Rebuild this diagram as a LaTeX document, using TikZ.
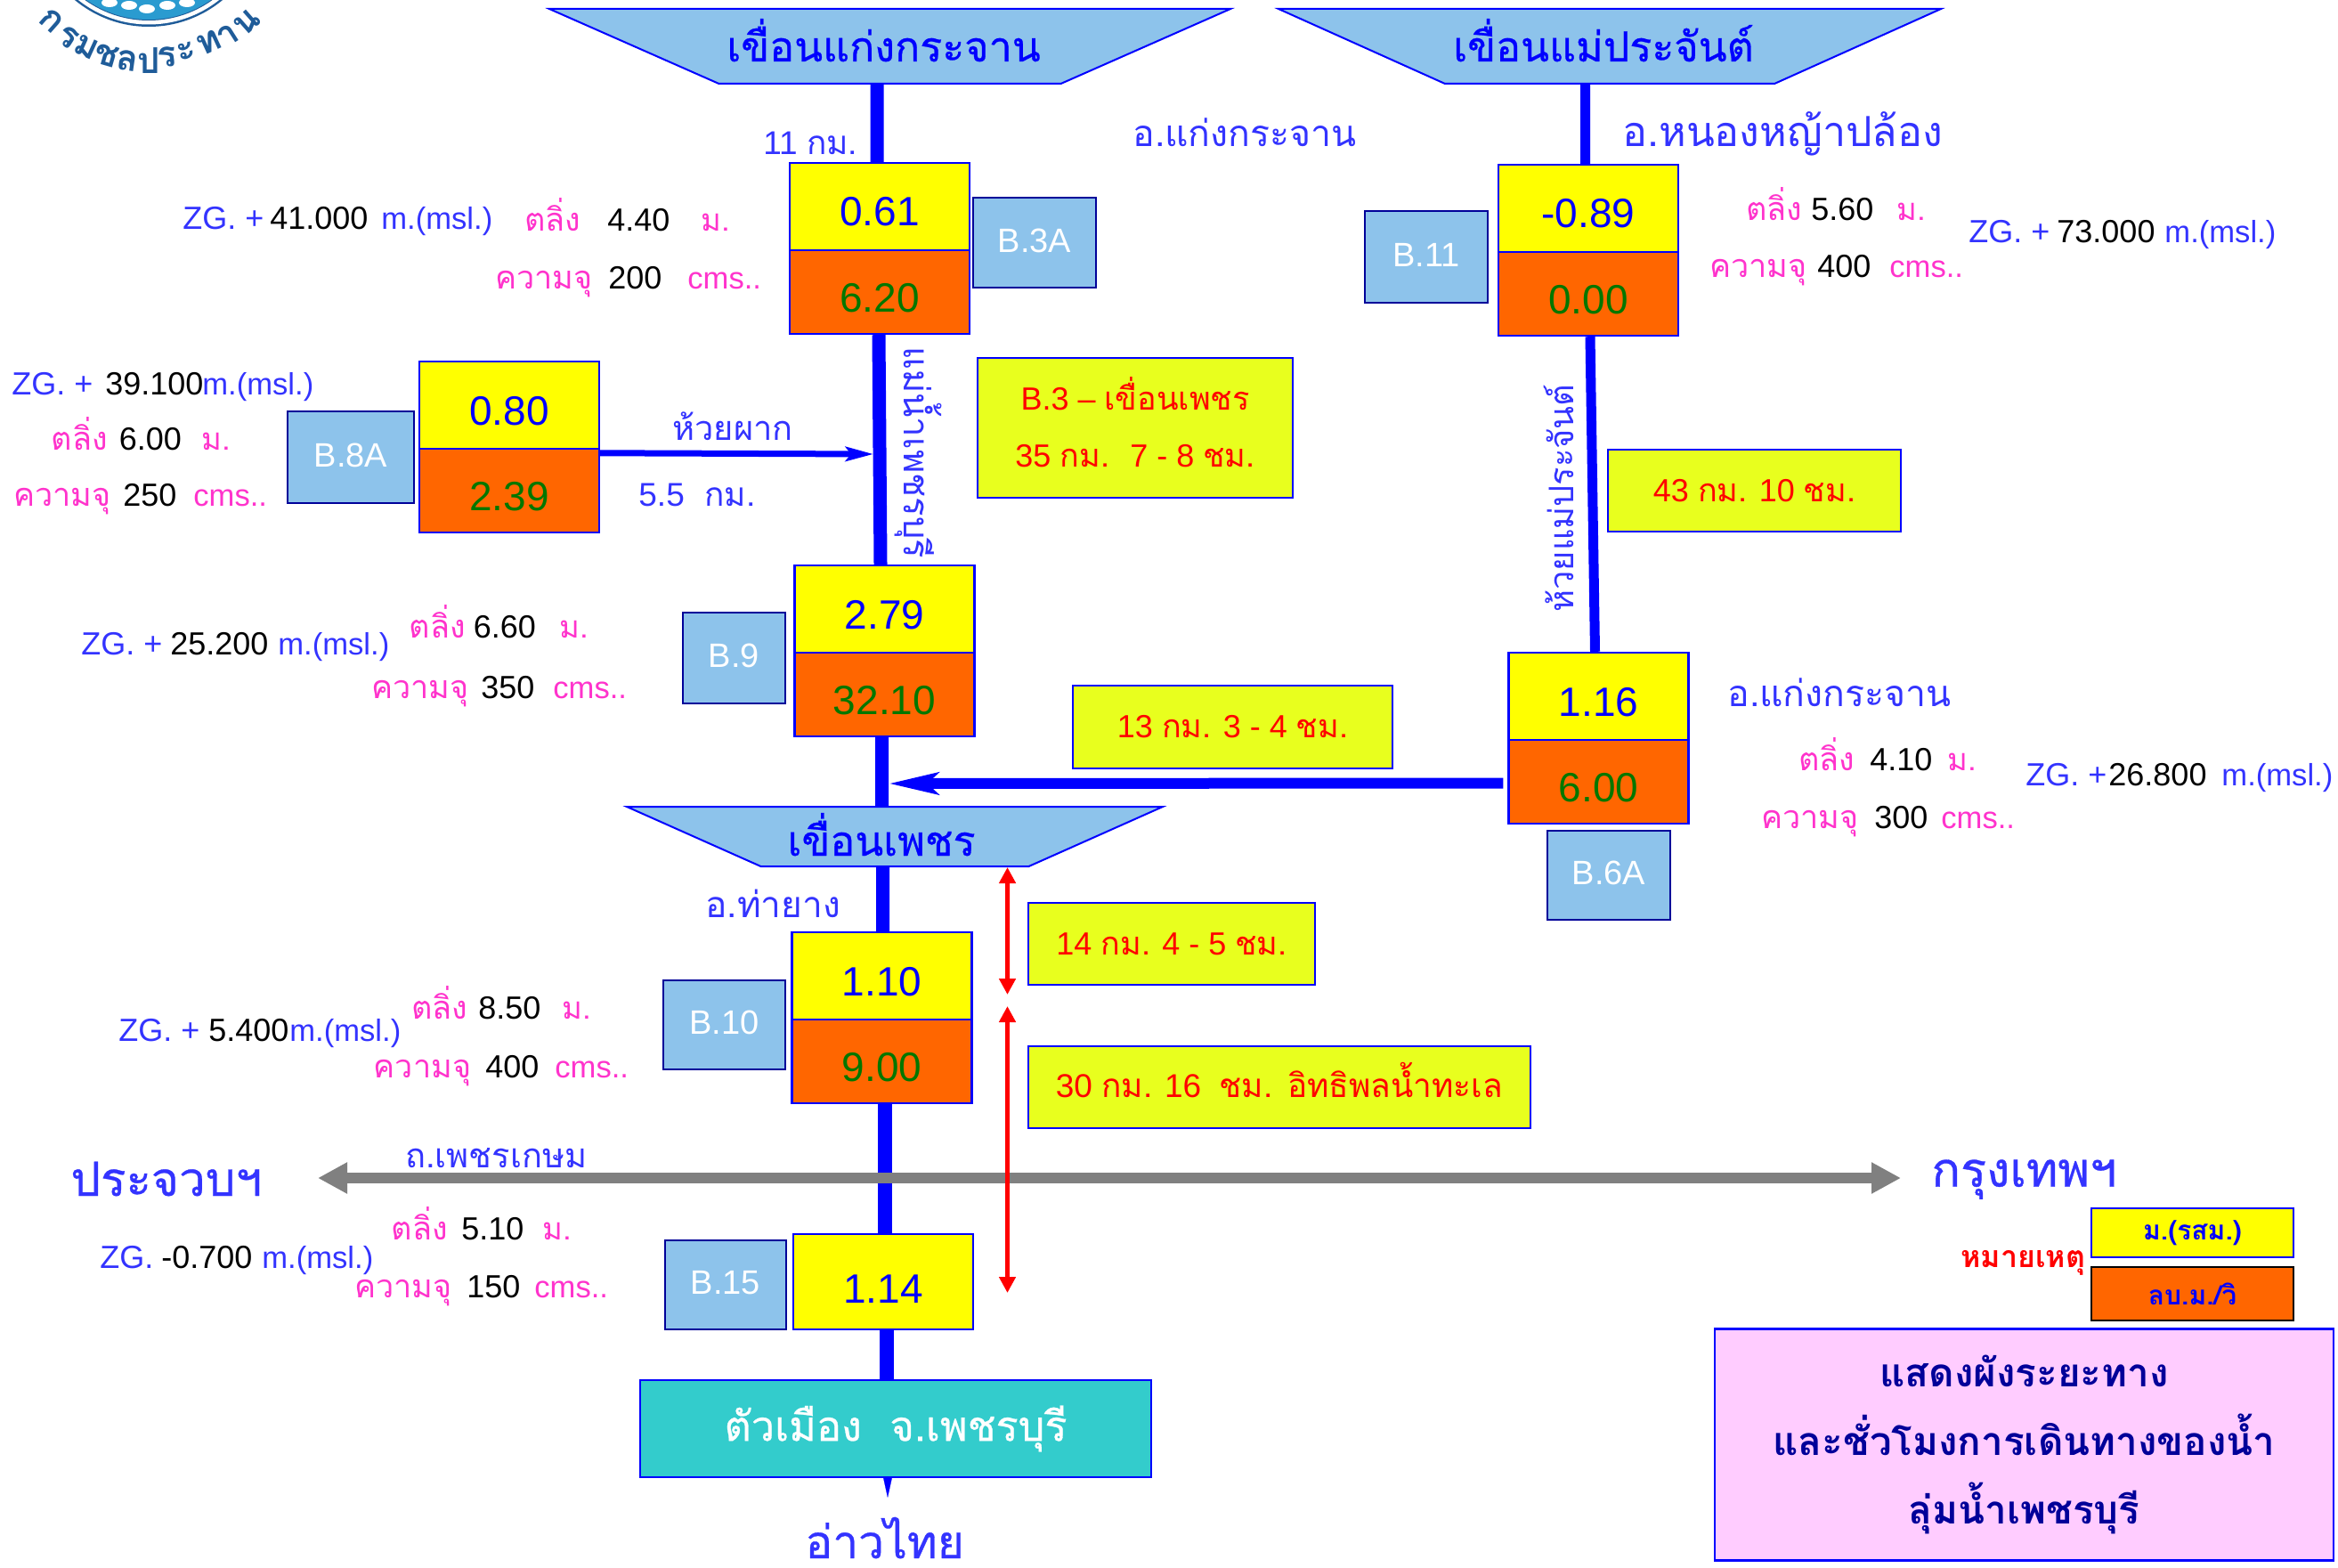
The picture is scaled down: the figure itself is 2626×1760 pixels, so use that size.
\documentclass[tikz,border=0pt]{standalone}
\usepackage{fontspec}
\setmainfont{Liberation Sans}
\newfontfamily\thaifont[Script=Thai]{Loma}
\newfontfamily\thaimed[Script=Thai,FakeBold=0.6]{Loma}
\usetikzlibrary{shapes.geometric}
\usetikzlibrary{arrows.meta}
\definecolor{lblblue}{HTML}{3333FF}
\definecolor{lblpink}{HTML}{FF33CC}
\definecolor{lvlyellow}{HTML}{FFFF00}
\definecolor{floorange}{HTML}{FF6600}
\definecolor{flogreen}{HTML}{007700}
\definecolor{stnblue}{HTML}{8DC3EB}
\definecolor{dstlime}{HTML}{E8FF1E}
\definecolor{cityteal}{HTML}{33CCCC}
\definecolor{notepink}{HTML}{FFCCFF}
\definecolor{logoblue}{HTML}{1F5C99}
\definecolor{logofill}{HTML}{2A9BD0}
\newcommand{\thai}[1]{{\thaifont #1}}
\newcommand{\infoline}[5]{\makebox[#2pt][l]{\textcolor{lblpink}{\thai{#1}}}\makebox[#4pt][l]{\textcolor{black}{#3}}\textcolor{lblpink}{\fontsize{17.3}{17.3}\selectfont #5}}
\newcommand{\zgline}[5]{\makebox[#2pt][l]{\textcolor{lblblue}{#1}}\makebox[#4pt][l]{\textcolor{black}{#3}}\textcolor{lblblue}{\fontsize{17.3}{17.3}\selectfont #5}}
\tikzstyle{lvl}=[draw=blue,fill=lvlyellow,line width=1.2pt,minimum width=101pt,minimum height=49pt,inner sep=0pt,text=blue,font=\fontsize{23}{23}\selectfont,text height=22pt,text depth=0pt]
\tikzstyle{flo}=[lvl,fill=floorange,text=flogreen,minimum height=47pt]
\tikzstyle{stn}=[draw=blue!60!black,fill=stnblue,line width=1pt,inner sep=0pt,text=white,minimum width=69pt,minimum height=50pt,font=\fontsize{19}{19}\selectfont,text depth=2.4pt]
\tikzstyle{dst}=[draw=blue,fill=dstlime,line width=1pt,inner sep=0pt,text=red,font=\fontsize{18}{18}\selectfont]
\tikzstyle{dam}=[trapezium,shape border rotate=180,trapezium stretches body=true,draw=blue,fill=stnblue,line width=1pt,inner xsep=0pt,text=blue,font=\fontsize{23.3}{23.3}\selectfont\thaimed,text depth=0pt]
\tikzstyle{lbl}=[anchor=base west,inner sep=0pt,font=\fontsize{18}{18}\selectfont]
\tikzstyle{plc}=[anchor=base west,inner sep=0pt,text=lblblue,font=\fontsize{19}{19}\selectfont\thaifont]
\tikzstyle{big}=[plc,font=\fontsize{26.5}{26.5}\selectfont\thaimed]
\tikzstyle{riv}=[draw=blue,line width=7.5pt]
\tikzstyle{trib}=[draw=blue,line width=5.5pt]
\begin{document}
\begin{tikzpicture}[x=0.5pt,y=-0.5pt,node distance=48pt]
  \path [use as bounding box,clip] (0,0) rectangle (2626,1760);

  \fill [logoblue] (167,-100) circle (130pt/2);
  \fill [white] (167,-100) circle (127.5pt/2);
  \fill [logoblue] (167,-100) circle (123pt/2);
  \fill [logofill] (167,-100) circle (122pt/2);
  \foreach \xa/\ya in {123/3,145/6,165/10,188/6,210/3}
    \fill [white] (\xa,\ya) ellipse (9pt/2 and 5pt/2);
  \foreach \ch/\xa/\ya [count=\i] in {ก/58/23,ร/77/42,ม/97/53,ช/120/62,ล/143/68,ป/167/68,ร/188/64,ะ/209/58,ท/235/48,า/256/40,น/277/25} {
    \pgfmathsetmacro{\a}{atan((\xa-167)/(\ya+100))}
    \node (lg\i) [text=logoblue,inner sep=0pt,rotate=\a,font=\fontsize{20}{20}\selectfont\thaifont\bfseries] at (\xa,\ya) {\ch};
  }

  \node [dam,inner ysep=12.5pt,minimum width=382.5pt,trapezium left angle=23.8,trapezium right angle=23.8,text height=17pt] (dam1) at (999.5,52) {เขื่อนแก่งกระจาน\hspace*{7pt}};
  \node [dam,inner ysep=12.5pt,minimum width=372pt,trapezium left angle=24.2,trapezium right angle=24.2,text height=17pt] (dam2) at (1808,52) {เขื่อนแม่ประจันต์\hspace*{7pt}};
  \node [dam,inner ysep=6pt,minimum width=301pt,trapezium left angle=24,trapezium right angle=24,text height=21.5pt] (dam3) at (1005,939.5) {เขื่อนเพชร\hspace*{15pt}};

  \node [lvl] (g1) at (988,232) {0.61};
  \node [flo] (q1) [below of=g1] {6.20};
  \node [lvl] (g2) at (993.5,684) {2.79};
  \node [flo] (q2) [below of=g2] {32.10};
  \node [lvl] (g3) at (572,455) {0.80};
  \node [flo] (q3) [below of=g3] {2.39};
  \node [lvl] (g4) at (990.5,1096) {1.10};
  \node [flo] (q4) [below of=g4] {9.00};
  \node [lvl,minimum height=53.5pt,text height=24pt] (g5) at (992,1439.5) {1.14};
  \node [lvl] (g6) at (1784,234) {-0.89};
  \node [flo] (q6) [below of=g6] {0.00};
  \node [lvl] (g7) at (1795.5,782) {1.16};
  \node [flo] (q7) [below of=g7] {6.00};

  \node [stn] (b3a) at (1162,272.5) {B.3A};
  \node [stn,minimum height=51.5pt] (b11) at (1602,288.5) {B.11};
  \node [stn,minimum width=71pt,minimum height=51.5pt] (b8a) at (394,513.5) {B.8A};
  \node [stn,minimum width=57.5pt,minimum height=51pt] (b9) at (824.5,739) {B.9};
  \node [stn,minimum width=68.5pt] (b10) at (813.5,1150.5) {B.10};
  \node [stn,minimum width=68pt] (b15) at (815,1443) {B.15};
  \node [stn] (b6a) at (1807,982.5) {B.6A};

  \node [dst,minimum width=177pt,minimum height=78.5pt,align=center] (d1) at (1275,480.5) {B.3 -- \thai{เขื่อนเพชร}\\[14pt]35 \thai{กม.}~ 7 - 8 \thai{ชม.}\rule[-7pt]{0pt}{0pt}};
  \node [dst,minimum width=164.5pt,minimum height=46pt] (d2) at (1970.5,551) {43 \thai{กม.} 10 \thai{ชม.}};
  \node [dst,minimum width=179.5pt,minimum height=46.5pt] (d3) at (1384.5,816.5) {13 \thai{กม.} 3 - 4 \thai{ชม.}};
  \node [dst,minimum width=161pt,minimum height=46pt] (d4) at (1316,1060) {14 \thai{กม.} 4 - 5 \thai{ชม.}};
  \node [dst,minimum width=282pt,minimum height=46pt,text height=11pt,text depth=0pt,font=\fontsize{18.5}{18.5}\selectfont] (d5) at (1437,1221) {30 \thai{กม.} 16~ \thai{ชม. อิทธิพลน้ำทะเล}};

  \node [draw=blue,fill=cityteal,line width=1.2pt,text=white,minimum width=287pt,minimum height=54.5pt,inner sep=0pt,font=\fontsize{23.4}{23.4}\selectfont\thaimed] (city) at (1006,1604.5) {ตัวเมือง~ จ.เพชรบุรี};
  \node [big,font=\fontsize{25.7}{25.7}\selectfont\thaimed] (gulf) at (904,1750) {อ่าวไทย};
  \node [big] (pj) at (79,1343) {ประจวบฯ};
  \node [big,font=\fontsize{27}{27}\selectfont\thaimed] (bk) at (2169,1332.7) {กรุงเทพฯ};
  \node [plc] (rd) at (455,1311) {ถ.เพชรเกษม};
  \node [plc,font=\fontsize{20.5}{20.5}\selectfont\thaifont] (am1) at (1272,165) {อ.แก่งกระจาน};
  \node [plc,font=\fontsize{23.3}{23.3}\selectfont\thaifont] (am2) at (1822,165) {อ.หนองหญ้าปล้อง};
  \node [plc,font=\fontsize{20.3}{20.3}\selectfont\thaifont] (am3) at (792,1030) {อ.ท่ายาง};
  \node [plc,font=\fontsize{20.5}{20.5}\selectfont\thaifont] (am4) at (1940,793.5) {อ.แก่งกระจาน};
  \node [plc] (km1) at (755,494) {ห้วยผาก};
  \node [lbl,text=lblblue,font=\fontsize{18.5}{18.5}\selectfont] (km2) at (857,173.5) {11 \thai{กม.}};
  \node [lbl,text=lblblue,font=\fontsize{18.5}{18.5}\selectfont] (km3) at (717,568) {5.5~~\hspace{1pt}\thai{กม.}};
  \node [plc,rotate=-90,font=\fontsize{20}{20}\selectfont\thaifont] (rv1) at (1015,389) {แม่น้ำเพชรบุรี};
  \node [plc,rotate=90] (rv2) at (1767,688) {ห้วยแม่ประจันต์};

  \node [lbl] (z1) at (205,257) {\zgline{ZG. +}{49}{41.000}{62.5}{m.(msl.)}};
  \node [lbl] (t1) at (589,259) {\infoline{ตลิ่ง}{46.5}{4.40}{52.5}{\thai{ม.}}};
  \node [lbl] (c1) at (556,324) {\infoline{ความจุ}{63.5}{200}{44.5}{cms..}};
  \node [lbl] (z3) at (13,443) {\zgline{ZG. +}{52.5}{39.100}{54.5}{m.(msl.)}};
  \node [lbl] (t3) at (57.5,505) {\infoline{ตลิ่ง}{38}{6.00}{46.5}{\thai{ม.}}};
  \node [lbl] (c3) at (15,568) {\infoline{ความจุ}{61.5}{250}{39.5}{cms..}};
  \node [lbl] (z2) at (91,735.5) {\zgline{ZG. +}{50}{25.200}{60.5}{m.(msl.)}};
  \node [lbl] (t2) at (459.5,716) {\infoline{ตลิ่ง}{36}{6.60}{48.5}{\thai{ม.}}};
  \node [lbl] (c2) at (417,784) {\infoline{ความจุ}{61.5}{350}{40.5}{cms..}};
  \node [lbl] (z4) at (133,1169) {\zgline{ZG. +}{50.5}{5.400}{45.5}{m.(msl.)}};
  \node [lbl] (t4) at (462,1144.5) {\infoline{ตลิ่ง}{37.5}{8.50}{47}{\thai{ม.}}};
  \node [lbl] (c4) at (419.5,1210) {\infoline{ความจุ}{62.75}{400}{39}{cms..}};
  \node [lbl] (z5) at (112,1424) {\zgline{ZG.}{34.5}{-0.700}{56.5}{m.(msl.)}};
  \node [lbl] (t5) at (439.5,1392) {\infoline{ตลิ่ง}{39.25}{5.10}{45.5}{\thai{ม.}}};
  \node [lbl] (c5) at (398,1457) {\infoline{ความจุ}{63}{150}{38}{cms..}};
  \node [lbl] (z6) at (2211,272) {\zgline{ZG. +}{49.5}{73.000}{60.5}{m.(msl.)}};
  \node [lbl] (t6) at (1961,248) {\infoline{ตลิ่ง}{36.5}{5.60}{48}{\thai{ม.}}};
  \node [lbl] (c6) at (1920,311) {\infoline{ความจุ}{60.5}{400}{40.5}{cms..}};
  \node [lbl] (z7) at (2275,882) {\zgline{ZG. +}{46.5}{26.800}{63.5}{m.(msl.)}};
  \node [lbl] (t7) at (2020,865) {\infoline{ตลิ่ง}{40}{4.10}{43.5}{\thai{ม.}}};
  \node [lbl] (c7) at (1978,930) {\infoline{ความจุ}{63.5}{300}{37.5}{cms..}};

  \node [draw=blue,fill=lvlyellow,line width=1.2pt,minimum width=113.5pt,minimum height=27.6pt,inner sep=0pt,text=blue,font=\fontsize{15}{15}\selectfont\thaifont\bfseries] (lg1b) at (2462.5,1384.5) {ม.(รสม.)};
  \node [draw=black,fill=floorange,line width=1.2pt,minimum width=113.5pt,minimum height=30pt,inner sep=0pt,text=blue,font=\fontsize{15}{15}\selectfont\thaifont\bfseries] (lg2b) at (2462.5,1453) {ลบ.ม./วิ};
  \node [anchor=base west,inner sep=0pt,text=red,font=\fontsize{17}{17}\selectfont\thaifont\bfseries] (note) at (2202,1423) {หมายเหตุ};
  \node [draw=blue,fill=notepink,line width=1.2pt,minimum width=347.5pt,minimum height=130pt,inner sep=0pt,align=center,text=blue!60!black,font=\fontsize{22}{38.5}\selectfont\thaifont\bfseries] (title) at (2273.5,1622.3) {แสดงผังระยะทาง\\และชั่วโมงการเดินทางของน้ำ\\ลุ่มน้ำเพชรบุรี};

  \coordinate (j1) at (998,880);
  \coordinate (j2) at (981,510);
  \coordinate (sea) at (997,1682);
  \coordinate (roadw) at (357,1323);
  \coordinate (roade) at (2135,1323);
  \coordinate (m1) at (1131.5,1117);
  \coordinate (m2) at (1131.5,1130);
  \coordinate (m3) at (1131.5,1452);

  \draw [riv] ([xshift=-7.25pt]dam1.south) -- ([xshift=-1.5pt]g1.north);
  \draw [riv] ([xshift=-.5pt]q1.south) -- ([xshift=-2.25pt]g2.north);
  \draw [riv] ([xshift=-1.5pt]q2.south) -- ([xshift=-7.25pt]dam3.north);
  \draw [riv] ([xshift=-6.75pt]dam3.south) -- ([xshift=.5pt]g4.north);
  \draw [riv,line width=8pt] ([xshift=1.75pt]q4.south) -- ([xshift=1pt]g5.north);
  \draw [riv,line width=8pt] ([xshift=2pt]g5.south) -- ([xshift=-5pt]city.north);
  \draw [trib] ([xshift=-13.75pt]dam2.south) -- ([xshift=-1.75pt]g6.north);
  \draw [trib] ([xshift=1pt]q6.south) -- ([xshift=-2pt]g7.north);
  \draw [blue,line width=6pt,-{Stealth[length=27.5pt,width=12pt,inset=6pt]}] ([xshift=-2.5pt,yshift=-.75pt]q7.west) -- (j1);
  \draw [blue,line width=3.5pt,-{Stealth[length=15.5pt,width=8pt,inset=3pt]}] ([yshift=-3pt]q3.north east) -- (j2);
  \draw [blue,line width=.1pt,-{Triangle[length=11.5pt,width=5pt]}] ([xshift=-4.5pt]city.south) -- (sea);
  \draw [gray,line width=6pt,{Triangle[length=16.5pt,width=16.5pt]}-{Triangle[length=16.5pt,width=16.5pt]}] (roadw) -- (roade);
  \draw [red,line width=2.5pt,{Triangle[length=9pt,width=9pt]}-{Triangle[length=9pt,width=9pt]}] ([xshift=63.25pt]dam3.south) -- (m1);
  \draw [red,line width=2.5pt,{Triangle[length=9pt,width=9pt]}-{Triangle[length=9pt,width=9pt]}] (m2) -- (m3);
\end{tikzpicture}
\end{document}
